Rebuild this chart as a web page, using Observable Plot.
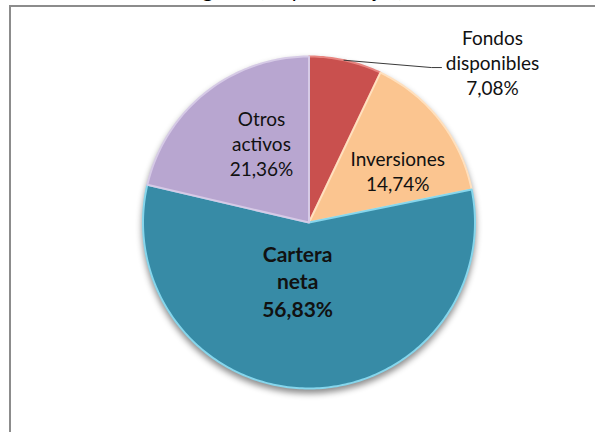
<!DOCTYPE html>
<html><head><meta charset="utf-8">
<script src="https://cdn.jsdelivr.net/npm/d3@7"></script>
<script src="https://cdn.jsdelivr.net/npm/@observablehq/plot@0.6"></script>
<style>
html,body{margin:0;padding:0;background:#fff;overflow:hidden;width:595px;height:432px;position:relative;}
#title{position:absolute;top:-22px;left:0;white-space:nowrap;font:21px Lato, "Open Sans", sans-serif;color:#000;line-height:21px}
#frame{position:absolute;left:9px;top:5px;width:700px;height:500px;border-left:2px solid #8c8c8c;border-top:2px solid #8c8c8c;}
#chart{position:absolute;left:0;top:0;}
</style></head><body>
<div id="title"><span id="t1">Estructura del activo a agosto </span><span id="t2">(en porcentajes)</span></div>
<div id="frame"></div>
<div id="chart"></div>
<script>
// Datos
const categorias = ["Fondos disponibles", "Inversiones", "Cartera neta", "Otros activos"];
const valores = [7.08, 14.74, 56.83, 21.36];
const lineasEtiqueta = [["Fondos", "disponibles"], ["Inversiones"], ["Cartera", "neta"], ["Otros", "activos"]];

// Estilo / disposición (no datos)
const colores = ["#C9504E", "#FBC590", "#378BA6", "#B8A6D0"];
const bordes  = ["#E88580", "#FFE0BE", "#86D6EC", "#D6CAE6"];
const radioEtiqueta = [1.47, 0.62, 0.356, 0.56];
const giroEtiqueta = [36.0, 7.5, 10.3, 7.7]; // grados
const negrita = [false, false, true, false];

const fmt = v => v.toFixed(2).replace(".", ",") + "%";

const arcos = d3.pie().sort(null).value(d => d)(valores);

const puntos = [];
arcos.forEach((s, i) => {
  const n = Math.max(2, Math.ceil((s.endAngle - s.startAngle) / (Math.PI / 180)));
  const base = {cat: categorias[i], fill: colores[i], stroke: bordes[i]};
  puntos.push({...base, x: 0, y: 0});
  for (let k = 0; k <= n; k++) {
    const a = s.startAngle + (s.endAngle - s.startAngle) * k / n;
    puntos.push({...base, x: Math.sin(a), y: Math.cos(a)});
  }
  puntos.push({...base, x: 0, y: 0});
});

const etiquetas = arcos.map((s, i) => {
  const mid = (s.startAngle + s.endAngle) / 2 + giroEtiqueta[i] * Math.PI / 180;
  return {
    x: radioEtiqueta[i] * Math.sin(mid),
    y: radioEtiqueta[i] * Math.cos(mid),
    text: [...lineasEtiqueta[i], fmt(valores[i])].join("\n"),
    bold: negrita[i]
  };
});

// Línea guía de "Fondos disponibles"
const s0 = arcos[0];
const mid0 = (s0.startAngle + s0.endAngle) / 2 - 0.01;
const e0 = etiquetas[0];
const guia = [
  {x: 1.0 * Math.sin(mid0), y: 1.0 * Math.cos(mid0)},
  {x: e0.x - 0.367, y: e0.y - 0.036},
  {x: e0.x - 0.307, y: e0.y - 0.036}
];

const chart = Plot.plot({
  width: 595, height: 432,
  marginLeft: 142.5, marginRight: 120.5, marginTop: 56, marginBottom: 44,
  x: {domain: [-1, 1], axis: null},
  y: {domain: [-1, 1], axis: null},
  style: {fontFamily: "Lato, 'Open Sans', sans-serif", background: "transparent", overflow: "visible"},
  marks: [
    Plot.line(puntos, {x: "x", y: "y", z: "cat", fill: "fill", stroke: "stroke", strokeWidth: 2, strokeLinejoin: "round"}),
    Plot.line(guia, {x: "x", y: "y", stroke: "#3a3a3a", strokeWidth: 1}),
    Plot.text(etiquetas.filter(d => !d.bold), {x: "x", y: "y", text: "text", fontSize: 19, lineHeight: 1.32, fill: "#111"}),
    Plot.text(etiquetas.filter(d => d.bold), {x: "x", y: "y", text: "text", fontSize: 21, fontWeight: "bold", lineHeight: 1.33, fill: "#111"})
  ]
});
document.getElementById("chart").appendChild(chart);
const g = chart.querySelector('g[aria-label="line"]');
if (g) g.style.filter = "drop-shadow(0px 4px 3px rgba(0,0,0,0.45))";

// Título recortado: colocar "(" cerca de x=259
const t = document.getElementById("title");
const t2 = document.getElementById("t2");
t.style.left = (259 - t2.offsetLeft) + "px";
</script>
</body></html>
